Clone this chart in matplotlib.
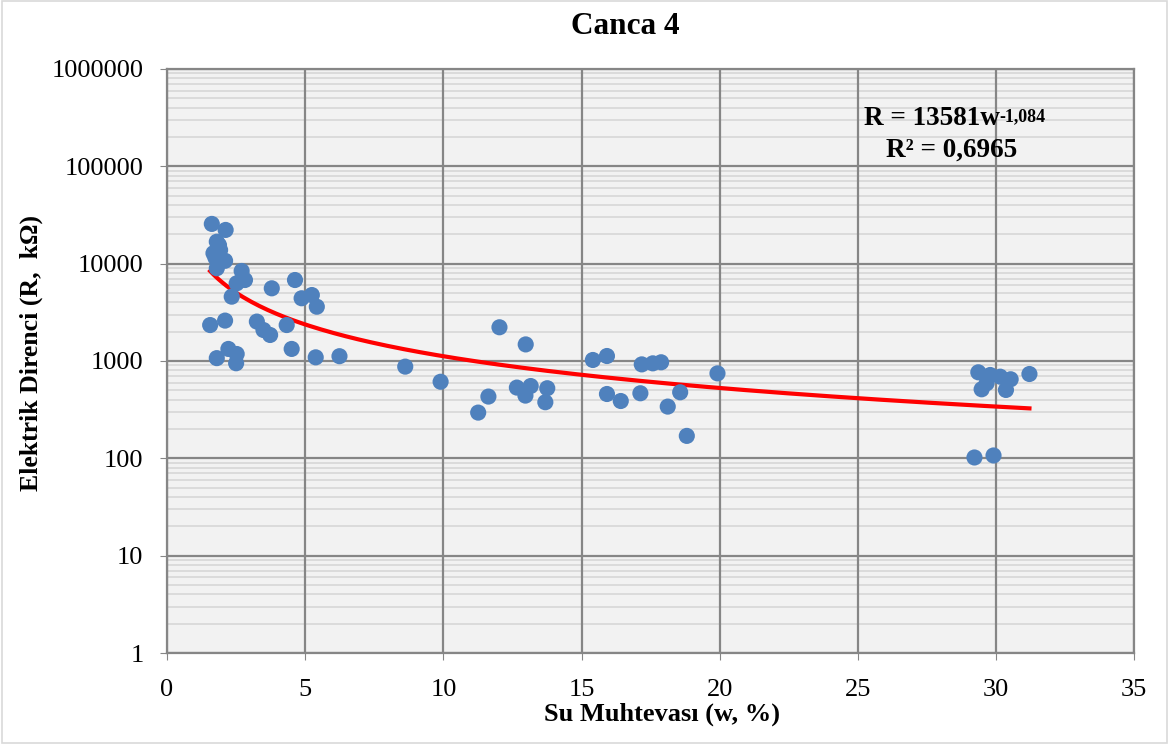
import numpy as np
import matplotlib.pyplot as plt
from matplotlib.ticker import LogLocator, NullFormatter, FixedLocator

# water content (%) and electrical resistance (kOhm)
su_muhtevasi = [1.62, 2.12, 1.80, 1.88, 1.68, 1.92, 2.10, 1.80, 1.75, 2.70,
                2.82, 2.52, 3.79, 4.63, 4.87, 5.24, 5.42, 2.34, 1.56, 2.10,
                3.25, 3.49, 3.73, 4.33, 2.22, 2.52, 1.80, 2.50, 4.51, 5.38,
                6.24, 12.03, 12.98, 8.62, 9.90, 11.26, 11.63, 12.66, 13.16, 12.97,
                13.76, 13.69, 15.41, 15.92, 15.92, 16.42, 17.13, 17.18, 17.58, 17.88,
                18.57, 18.12, 18.81, 19.92, 29.36, 29.79, 30.15, 30.53, 31.21, 29.48,
                29.66, 30.36, 29.22, 29.91]
direnc = [25600, 22200, 16800, 15500, 12800, 13800, 10700, 8970, 11500, 8410,
          6790, 6280, 5580, 6790, 4410, 4760, 3610, 4580, 2340, 2600,
          2540, 2080, 1850, 2340, 1330, 1180, 1070, 948, 1330, 1090,
          1120, 2220, 1480, 875, 612, 295, 431, 533, 553, 441,
          525, 377, 1024, 1125, 458, 388, 466, 923, 946, 970,
          477, 340, 170, 746, 765, 718, 690, 649, 735, 512,
          590, 504, 102, 107]

# power trendline shown on the chart
katsayi = 13581
us = -1.084
us_text = "-1,084"
r2_text = "0,6965"

x = np.array(su_muhtevasi)
y = np.array(direnc)

plt.rcParams['font.family'] = ['Liberation Serif', 'DejaVu Serif']

fig = plt.figure(figsize=(11.69, 7.44), dpi=100)
ax = fig.add_axes([0.1429, 0.1223, 0.8273, 0.785])
ax.set_facecolor('#f2f2f2')

# trendline
xt = np.linspace(x.min(), x.max(), 200)
ax.plot(xt, katsayi * xt ** us, color='#ff0000', lw=3, zorder=3)

ax.scatter(x, y, s=135, color='#4f81bd', edgecolors='none', zorder=4)

ax.set_yscale('log')
ax.set_ylim(1, 1e6)
ax.set_xlim(0, 35)
ax.xaxis.set_major_locator(FixedLocator(np.arange(0, 36, 5)))
ax.yaxis.set_major_locator(FixedLocator([1, 10, 100, 1000, 1e4, 1e5, 1e6]))
ax.set_yticklabels(['1', '10', '100', '1000', '10000', '100000', '1000000'])
ax.yaxis.set_minor_locator(LogLocator(base=10, subs=np.arange(2, 10), numticks=20))
ax.yaxis.set_minor_formatter(NullFormatter())

ax.grid(which='major', color='#868686', lw=1.6)
ax.grid(which='minor', axis='y', color='#d9d9d9', lw=1.3)
ax.set_axisbelow(True)
ax.yaxis.set_zorder(0.3)
ax.xaxis.set_zorder(0.6)
for s in ax.spines.values():
    s.set_color('#868686')
    s.set_linewidth(1.6)
ax.tick_params(which='major', length=5, color='#868686', labelsize=19)
ax.tick_params(axis='y', pad=12)
ax.tick_params(axis='x', pad=14)
ax.tick_params(which='minor', length=0)

fig.text(0.535, 0.965, 'Canca 4', fontsize=22.5, fontweight='bold', ha='center', va='center')
fig.text(0.566, 0.040, 'Su Muhtevası (w, %)', fontsize=19, fontweight='bold', ha='center', va='center')
fig.text(0.027, 0.525, 'Elektrik Direnci (R,  kΩ)', fontsize=18.5, fontweight='bold',
         ha='center', va='center', rotation=90)

# equation with superscript exponent
eq = ax.text(0.861, 0.916, 'R = %dw' % katsayi, transform=ax.transAxes,
             ha='right', va='center', fontsize=19.5, fontweight='bold')
ax.annotate(us_text, xy=(1, 1), xycoords=eq, xytext=(0, -2), textcoords='offset points',
            ha='left', va='top', fontsize=13, fontweight='bold')
ax.text(0.811, 0.861, 'R² = ' + r2_text, transform=ax.transAxes,
        ha='center', va='center', fontsize=19.5, fontweight='bold')

fig.patches.append(plt.Rectangle((0.002, 0.002), 0.996, 0.996, transform=fig.transFigure,
                                 fill=False, edgecolor='#d9d9d9', lw=1.2))

fig.savefig('out.png', dpi=100)
